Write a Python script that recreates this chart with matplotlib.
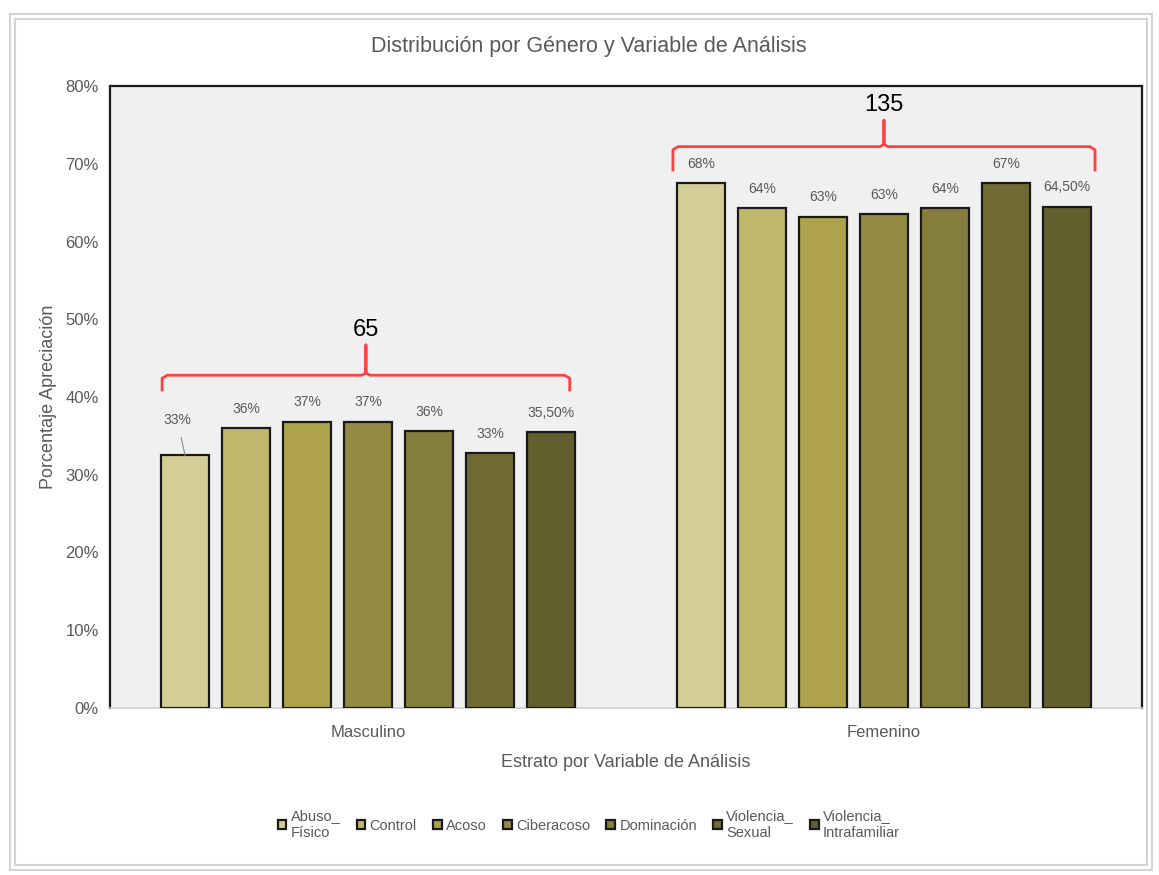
#Distribucion por genero y variable de analisis - grouped bars

import matplotlib.pyplot as plt
import matplotlib.patches as mpatches
from matplotlib.ticker import PercentFormatter

plt.rcParams['font.family'] = ['Liberation Sans Narrow', 'Liberation Sans', 'DejaVu Sans']

generos = ['Masculino', 'Femenino']
variables = ['Abuso_\nFísico', 'Control', 'Acoso', 'Ciberacoso', 'Dominación',
             'Violencia_\nSexual', 'Violencia_\nIntrafamiliar']
masculino = [0.325, 0.36, 0.368, 0.368, 0.356, 0.328, 0.355]
femenino = [0.675, 0.643, 0.632, 0.635, 0.643, 0.675, 0.645]
etiquetas_masc = ['33%', '36%', '37%', '37%', '36%', '33%', '35,50%']
etiquetas_fem = ['68%', '64%', '63%', '63%', '64%', '67%', '64,50%']
totales = ['65', '135']
colores = ['#D3CE96', '#BFB86B', '#ADA34C', '#938A44', '#847D3B', '#706B32', '#645F2F']

gris = '#595959'

fig = plt.figure(figsize=(11.59, 8.75), dpi=100)
ax = fig.add_axes([0.0949, 0.1909, 0.8904, 0.7108])
ax.set_facecolor('#F0F0F0')

step = 0.1182
width = 0.093
for i, var in enumerate(variables):
	off = (i - 3) * step
	ax.bar([0 + off, 1 + off], [masculino[i], femenino[i]], width=width,
		color=colores[i], edgecolor='#1a1a1a', linewidth=1.6, label=var, zorder=3)

#data labels
for g, (vals, labs) in enumerate([(masculino, etiquetas_masc), (femenino, etiquetas_fem)]):
	for i, (v, lab) in enumerate(zip(vals, labs)):
		x = g + (i - 3) * step
		if g == 0 and i == 0:
			#label moved up with a leader line
			ax.annotate(lab, xy=(x, v), xytext=(x - 0.015, v + 0.046),
				ha='center', va='center', fontsize=10, color=gris,
				arrowprops=dict(arrowstyle='-', color='#8c8c8c', lw=0.8, shrinkA=6, shrinkB=0))
		else:
			ax.annotate(lab, xy=(x, v), xytext=(0, 14), textcoords='offset points',
				ha='center', va='center', fontsize=10, color=gris)

#red braces with totals
braces = [(-0.399, 0.391, 0.428, 0.409, 0.467, 0.486),
          (0.591, 1.409, 0.722, 0.692, 0.756, 0.776)]
for (x0, x1, yh, yl, yt, ytxt), tot in zip(braces, totales):
	xm = (x0 + x1) / 2
	ax.plot([x0, x0, x0 + 0.01, xm - 0.008, xm, xm, xm, xm + 0.008, x1 - 0.01, x1, x1],
		[yl, yh - 0.004, yh, yh, yh + 0.003, yt, yh + 0.003, yh, yh, yh - 0.004, yl],
		color='#FF4040', lw=2, zorder=4, solid_joinstyle='round')
	ax.text(xm, ytxt, tot, ha='center', va='center', fontsize=17, color='black')

ax.set_xlim(-0.5, 1.5)
ax.set_ylim(0, 0.8)
ax.set_yticks([i / 10 for i in range(9)])
ax.yaxis.set_major_formatter(PercentFormatter(1.0, decimals=0))
ax.set_xticks([0, 1])
ax.set_xticklabels(generos)
ax.tick_params(axis='both', length=0, colors=gris, labelsize=12, pad=8)
ax.tick_params(axis='x', pad=12)

for side in ['left', 'top', 'right']:
	ax.spines[side].set_color('#1a1a1a')
	ax.spines[side].set_linewidth(1.6)
ax.spines['bottom'].set_color('#d0d0d0')
ax.spines['bottom'].set_linewidth(1.2)

ax.set_ylabel('Porcentaje Apreciación', color=gris, fontsize=13, labelpad=6)
ax.set_xlabel('Estrato por Variable de Análisis', color=gris, fontsize=13, labelpad=10)
fig.suptitle('Distribución por Género y Variable de Análisis', x=0.508, y=0.959,
	color=gris, fontsize=15.5)

fig.legend(loc='upper center', bbox_to_anchor=(0.508, 0.09), ncol=7, frameon=False,
	handlelength=0.6, handleheight=0.6, handletextpad=0.3, columnspacing=1.1,
	fontsize=10.5, labelcolor=gris)

#outer chart frame
for (x, y, w, h) in [(0.009, 0.006, 0.985, 0.978), (0.013, 0.012, 0.977, 0.966)]:
	fig.patches.append(mpatches.Rectangle((x, y), w, h, transform=fig.transFigure,
		fill=False, edgecolor='#d4d4d4', lw=1.5))

plt.savefig('out.png', dpi=100)
